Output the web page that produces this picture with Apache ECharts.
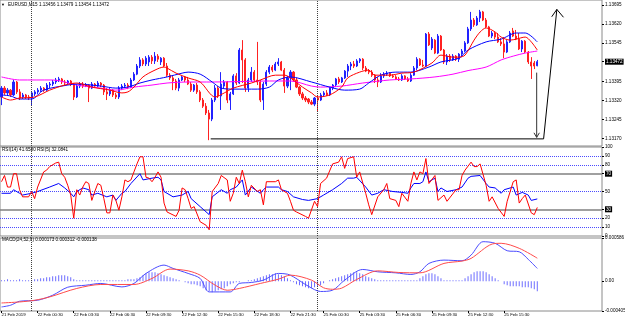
<!DOCTYPE html>
<html>
<head>
<meta charset="utf-8">
<title>EURUSD,M15</title>
<script src="https://cdn.jsdelivr.net/npm/echarts@6/dist/echarts.min.js"></script>
<style>
  html, body { margin: 0; padding: 0; background: #fff; }
  #chart { width: 625px; height: 320px; }
</style>
</head>
<body>
<div id="chart"></div>
<script>
const barSlots = 200;
const tickBars = [0, 12, 24, 36, 48, 60, 72, 84, 96, 107, 119, 131, 143, 155, 167];
const tickLabels = ["21 Feb 2019", "22 Feb 00:30", "22 Feb 03:30", "22 Feb 06:30", "22 Feb 09:30",
  "22 Feb 12:30", "22 Feb 15:30", "22 Feb 18:30", "22 Feb 21:30", "25 Feb 00:30", "25 Feb 03:30",
  "25 Feb 06:30", "25 Feb 09:30", "25 Feb 12:30", "25 Feb 15:30"];
const daySeparators = [10, 105];

const priceTicks = [1.13170, 1.13245, 1.13320, 1.13395, 1.13472, 1.13545, 1.13620, 1.13695];
const lastPrice = 1.13472;
const rsiTicks = [0, 10, 20, 30, 50, 70, 80, 90, 100];
const rsiDotted = [10, 20, 50, 80, 90];
const rsiSolid = [30, 70];
const macdTicks = [-0.000405, 0, 0.000586];

// [open, close, low, high]
const candles = [
  [1.13333,1.13368,1.13301,1.13376],[1.13368,1.13349,1.13341,1.13376],[1.13349,1.13360,1.13337,1.13368],[1.13360,1.13341,1.13333,1.13364],
  [1.13341,1.13392,1.13337,1.13400],[1.13392,1.13353,1.13345,1.13396],[1.13353,1.13329,1.13321,1.13364],[1.13333,1.13341,1.13325,1.13349],
  [1.13341,1.13333,1.13325,1.13345],[1.13333,1.13329,1.13321,1.13341],[1.13329,1.13349,1.13301,1.13356],[1.13345,1.13353,1.13337,1.13360],
  [1.13353,1.13360,1.13345,1.13368],[1.13360,1.13368,1.13353,1.13376],[1.13368,1.13360,1.13353,1.13372],[1.13360,1.13380,1.13356,1.13388],
  [1.13380,1.13384,1.13368,1.13392],[1.13384,1.13392,1.13376,1.13400],[1.13392,1.13400,1.13384,1.13408],[1.13400,1.13404,1.13392,1.13412],
  [1.13404,1.13392,1.13384,1.13408],[1.13392,1.13388,1.13380,1.13400],[1.13388,1.13396,1.13380,1.13400],[1.13396,1.13384,1.13376,1.13400],
  [1.13384,1.13333,1.13321,1.13388],[1.13333,1.13376,1.13329,1.13384],[1.13376,1.13384,1.13368,1.13392],[1.13384,1.13376,1.13368,1.13392],
  [1.13376,1.13380,1.13372,1.13388],[1.13380,1.13368,1.13313,1.13384],[1.13368,1.13384,1.13364,1.13392],[1.13384,1.13376,1.13368,1.13388],
  [1.13376,1.13388,1.13372,1.13396],[1.13388,1.13380,1.13372,1.13392],[1.13380,1.13353,1.13341,1.13384],[1.13353,1.13345,1.13321,1.13368],
  [1.13345,1.13360,1.13337,1.13368],[1.13360,1.13341,1.13333,1.13364],[1.13341,1.13333,1.13325,1.13349],[1.13333,1.13368,1.13325,1.13376],
  [1.13368,1.13376,1.13360,1.13384],[1.13376,1.13380,1.13368,1.13388],[1.13380,1.13372,1.13364,1.13388],[1.13372,1.13400,1.13368,1.13408],
  [1.13400,1.13423,1.13396,1.13431],[1.13423,1.13455,1.13419,1.13463],[1.13455,1.13479,1.13447,1.13490],[1.13479,1.13463,1.13455,1.13486],
  [1.13463,1.13486,1.13455,1.13494],[1.13471,1.13490,1.13455,1.13498],[1.13490,1.13475,1.13463,1.13498],[1.13475,1.13494,1.13463,1.13510],
  [1.13494,1.13482,1.13471,1.13502],[1.13471,1.13486,1.13459,1.13490],[1.13486,1.13455,1.13451,1.13490],[1.13455,1.13419,1.13412,1.13467],
  [1.13419,1.13408,1.13400,1.13427],[1.13408,1.13396,1.13360,1.13416],[1.13396,1.13368,1.13360,1.13404],[1.13368,1.13400,1.13356,1.13408],
  [1.13400,1.13412,1.13396,1.13416],[1.13412,1.13400,1.13392,1.13416],[1.13400,1.13384,1.13380,1.13412],[1.13384,1.13360,1.13353,1.13392],
  [1.13360,1.13380,1.13353,1.13384],[1.13380,1.13353,1.13345,1.13388],[1.13353,1.13321,1.13313,1.13360],[1.13321,1.13297,1.13290,1.13329],
  [1.13297,1.13270,1.13262,1.13309],[1.13270,1.13246,1.13163,1.13282],[1.13246,1.13321,1.13238,1.13329],[1.13321,1.13368,1.13313,1.13380],
  [1.13368,1.13337,1.13329,1.13376],[1.13337,1.13384,1.13282,1.13431],[1.13376,1.13392,1.13368,1.13400],[1.13392,1.13321,1.13309,1.13396],
  [1.13321,1.13345,1.13282,1.13353],[1.13345,1.13416,1.13341,1.13423],[1.13416,1.13388,1.13380,1.13427],[1.13388,1.13518,1.13384,1.13526],
  [1.13518,1.13479,1.13388,1.13557],[1.13479,1.13368,1.13353,1.13486],[1.13368,1.13400,1.13353,1.13408],[1.13400,1.13431,1.13392,1.13451],
  [1.13431,1.13400,1.13392,1.13439],[1.13400,1.13392,1.13380,1.13550],[1.13392,1.13321,1.13313,1.13400],[1.13321,1.13384,1.13282,1.13392],
  [1.13384,1.13431,1.13376,1.13439],[1.13431,1.13451,1.13423,1.13459],[1.13451,1.13439,1.13431,1.13459],[1.13439,1.13463,1.13435,1.13471],
  [1.13463,1.13471,1.13455,1.13486],[1.13471,1.13439,1.13435,1.13475],[1.13439,1.13376,1.13349,1.13447],[1.13376,1.13408,1.13368,1.13416],
  [1.13408,1.13431,1.13360,1.13439],[1.13431,1.13400,1.13392,1.13435],[1.13400,1.13372,1.13368,1.13408],[1.13372,1.13345,1.13337,1.13376],
  [1.13345,1.13329,1.13321,1.13353],[1.13329,1.13321,1.13313,1.13337],[1.13325,1.13313,1.13305,1.13329],[1.13313,1.13305,1.13301,1.13321],
  [1.13305,1.13329,1.13297,1.13333],[1.13329,1.13321,1.13274,1.13337],[1.13321,1.13341,1.13317,1.13349],[1.13341,1.13349,1.13333,1.13356],
  [1.13349,1.13341,1.13337,1.13360],[1.13341,1.13368,1.13337,1.13372],[1.13368,1.13380,1.13360,1.13384],[1.13380,1.13404,1.13372,1.13408],
  [1.13404,1.13392,1.13384,1.13412],[1.13392,1.13408,1.13388,1.13412],[1.13408,1.13435,1.13404,1.13439],[1.13435,1.13455,1.13412,1.13463],
  [1.13455,1.13463,1.13439,1.13471],[1.13463,1.13455,1.13447,1.13475],[1.13455,1.13475,1.13451,1.13482],[1.13475,1.13482,1.13467,1.13486],
  [1.13482,1.13447,1.13439,1.13486],[1.13447,1.13435,1.13431,1.13455],[1.13435,1.13431,1.13423,1.13443],[1.13431,1.13419,1.13412,1.13439],
  [1.13419,1.13400,1.13388,1.13423],[1.13400,1.13392,1.13372,1.13412],[1.13392,1.13416,1.13388,1.13427],[1.13416,1.13423,1.13408,1.13431],
  [1.13423,1.13427,1.13416,1.13435],[1.13427,1.13416,1.13412,1.13431],[1.13416,1.13412,1.13408,1.13423],[1.13412,1.13404,1.13400,1.13419],
  [1.13404,1.13400,1.13396,1.13412],[1.13400,1.13416,1.13396,1.13423],[1.13416,1.13404,1.13400,1.13419],[1.13404,1.13396,1.13392,1.13412],
  [1.13396,1.13419,1.13392,1.13427],[1.13419,1.13447,1.13416,1.13455],[1.13447,1.13482,1.13439,1.13490],[1.13482,1.13459,1.13455,1.13486],
  [1.13459,1.13455,1.13451,1.13479],[1.13455,1.13581,1.13451,1.13585],[1.13581,1.13538,1.13534,1.13589],[1.13526,1.13561,1.13518,1.13569],
  [1.13557,1.13506,1.13502,1.13561],[1.13506,1.13573,1.13502,1.13581],[1.13573,1.13518,1.13514,1.13577],[1.13518,1.13471,1.13463,1.13522],
  [1.13471,1.13494,1.13459,1.13502],[1.13494,1.13479,1.13471,1.13502],[1.13479,1.13494,1.13475,1.13502],[1.13494,1.13482,1.13475,1.13498],
  [1.13482,1.13502,1.13471,1.13506],[1.13502,1.13514,1.13490,1.13522],[1.13514,1.13546,1.13510,1.13553],[1.13546,1.13601,1.13542,1.13609],
  [1.13601,1.13636,1.13593,1.13668],[1.13636,1.13617,1.13609,1.13644],[1.13617,1.13644,1.13613,1.13652],[1.13644,1.13668,1.13628,1.13676],
  [1.13668,1.13636,1.13632,1.13672],[1.13636,1.13609,1.13605,1.13644],[1.13609,1.13573,1.13569,1.13613],[1.13573,1.13585,1.13565,1.13593],
  [1.13585,1.13569,1.13561,1.13589],[1.13569,1.13550,1.13546,1.13585],[1.13550,1.13542,1.13534,1.13565],[1.13542,1.13510,1.13486,1.13569],
  [1.13510,1.13550,1.13506,1.13557],[1.13550,1.13585,1.13546,1.13593],[1.13593,1.13573,1.13569,1.13605],[1.13573,1.13561,1.13557,1.13597],
  [1.13561,1.13522,1.13518,1.13585],[1.13522,1.13553,1.13510,1.13557],[1.13553,1.13510,1.13506,1.13557],[1.13510,1.13471,1.13463,1.13514],
  [1.13471,1.13455,1.13404,1.13490],[1.13467,1.13455,1.13443,1.13475],[1.13456,1.13472,1.13454,1.13479]
];

// moving averages as [bar, price]
const maFast = [[0,1.13333],[3,1.13321],[6,1.13329],[11,1.13333],[16,1.13360],[21,1.13380],[25,1.13388],[30,1.13372],
  [36,1.13360],[40,1.13349],[42,1.13353],[44,1.13372],[47,1.13412],[51,1.13439],[54,1.13451],[55,1.13447],[58,1.13427],
  [62,1.13408],[66,1.13392],[71,1.13333],[74,1.13349],[77,1.13368],[83,1.13388],[86,1.13400],[91,1.13419],[94,1.13419],
  [96,1.13408],[100,1.13372],[103,1.13349],[105,1.13333],[109,1.13341],[113,1.13372],[115,1.13408],[119,1.13431],
  [122,1.13439],[124,1.13419],[129,1.13419],[133,1.13427],[137,1.13431],[143,1.13467],[146,1.13498],[150,1.13490],
  [152,1.13490],[154,1.13498],[157,1.13557],[159,1.13589],[161,1.13605],[164,1.13589],[166,1.13569],[169,1.13557],
  [171,1.13561],[174,1.13569],[176,1.13550],[178,1.13518]];
const maMid = [[0,1.13341],[3,1.13337],[6,1.13325],[10,1.13325],[14,1.13360],[22,1.13380],[25,1.13384],[33,1.13376],
  [38,1.13368],[42,1.13372],[46,1.13388],[50,1.13400],[55,1.13412],[60,1.13427],[62,1.13431],[66,1.13423],[70,1.13392],
  [73,1.13368],[77,1.13364],[85,1.13364],[89,1.13372],[92,1.13400],[96,1.13412],[103,1.13392],[109,1.13372],[114,1.13360],
  [119,1.13364],[122,1.13388],[126,1.13419],[131,1.13431],[136,1.13431],[142,1.13451],[146,1.13471],[152,1.13486],
  [155,1.13518],[161,1.13550],[166,1.13561],[171,1.13585],[174,1.13585],[178,1.13550]];
const maSlow = [[0,1.13412],[6,1.13400],[17,1.13400],[25,1.13380],[33,1.13368],[38,1.13360],[44,1.13372],[50,1.13380],
  [55,1.13388],[62,1.13392],[70,1.13392],[89,1.13396],[96,1.13396],[103,1.13376],[106,1.13372],[113,1.13376],[120,1.13388],
  [129,1.13400],[136,1.13404],[144,1.13412],[150,1.13423],[155,1.13437],[161,1.13451],[166,1.13479],[170,1.13494],
  [174,1.13506],[178,1.13514]];

// drawn objects, [bar, price]
const trendPath = [[69.5,1.13168],[180.1,1.13168],[184.5,1.13678]];
const trendHead = [[182.8,1.13649],[184.5,1.13678],[186.7,1.13647]];
const dropArrow = [[177.8,1.13429],[177.8,1.13174]];
const dropHead = [[176.9,1.13192],[177.8,1.13174],[178.7,1.13192]];

const rsi14 = [[0,48],[3,48],[4,52],[6,48],[7,46],[10,48],[12,50],[16,55],[19,59],[21,54],[23,48],[24,44],[25,50],
  [27,54],[29,52],[30,46],[32,48],[35,44],[37,46],[38,40],[40,48],[41,50],[43,59],[46,70],[47,63],[50,65],[52,66],
  [53,63],[54,50],[57,44],[60,46],[62,50],[63,42],[66,33],[69,24],[70,44],[73,52],[75,48],[76,52],[78,55],[80,63],
  [81,46],[83,55],[86,48],[87,52],[88,55],[92,55],[93,52],[95,50],[97,44],[100,41],[102,40],[105,42],[107,46],
  [110,52],[113,59],[115,65],[117,65],[118,66],[121,55],[123,46],[125,48],[127,52],[130,50],[133,49],[135,48],
  [136,54],[137,59],[139,59],[140,61],[141,72],[142,61],[144,65],[145,50],[146,54],[148,50],[151,52],[153,55],
  [155,65],[156,67],[159,68],[161,59],[162,55],[164,54],[166,48],[167,52],[170,55],[171,46],[173,49],[175,46],
  [176,40],[178,41.658]];
const rsi5 = [[0,61],[1,68],[2,55],[3,55],[4,70],[5,70],[6,52],[7,44],[9,44],[10,50],[11,42],[12,55],[14,72],[15,74],
  [16,78],[18,82],[19,83],[20,70],[21,66],[22,57],[23,46],[24,20],[25,52],[26,46],[27,55],[28,61],[29,59],[30,40],
  [31,50],[32,59],[33,57],[34,42],[35,26],[36,26],[37,46],[38,40],[39,29],[40,44],[41,63],[42,61],[43,63],[44,72],
  [45,81],[46,89],[47,89],[48,66],[49,65],[50,61],[51,66],[52,72],[53,66],[54,37],[55,27],[58,22],[59,29],[60,54],
  [61,52],[62,42],[63,31],[64,33],[66,16],[68,12],[69,7],[70,50],[72,59],[73,68],[75,63],[76,39],[77,48],[78,66],
  [79,59],[80,74],[81,61],[82,44],[83,57],[85,50],[86,52],[87,35],[88,61],[91,61],[92,63],[93,52],[95,48],[96,39],
  [97,29],[98,27],[101,22],[102,20],[104,39],[105,33],[106,59],[108,65],[110,81],[112,83],[113,89],[114,76],[115,87],
  [117,89],[118,66],[119,72],[121,48],[122,35],[123,24],[125,44],[127,52],[128,59],[129,42],[131,40],[132,33],
  [133,48],[135,39],[136,59],[137,72],[138,63],[139,72],[140,70],[141,87],[142,59],[144,68],[145,40],[147,46],
  [148,39],[151,52],[152,52],[153,68],[154,74],[156,83],[157,78],[158,78],[159,81],[161,57],[162,39],[163,44],
  [165,31],[167,22],[168,39],[170,61],[171,63],[172,37],[173,42],[174,46],[176,26],[177,24],[178,32.0841]];

const macdMain = [[0,-0.000350],[3,-0.000327],[6,-0.000273],[12,-0.000259],[17,-0.000191],[22,-0.000082],[28,-0.000055],
  [33,-0.000031],[40,-0.000078],[44,-0.000031],[48,0.000105],[54,0.000218],[57,0.000173],[62,0.000105],[66,0.000037],
  [69,-0.000146],[76,-0.000146],[79,-0.000031],[83,-0.000018],[87,0.000014],[92,0.000105],[95,0.000095],[97,0.000059],
  [102,-0.000070],[106,-0.000140],[110,-0.000123],[114,0.000014],[120,0.000159],[125,0.000127],[131,0.000113],
  [136,0.000091],[139,0.000127],[142,0.000241],[147,0.000286],[153,0.000277],[156,0.000354],[160,0.000536],
  [164,0.000514],[168,0.000413],[172,0.000399],[175,0.000296],[178,0.000173]];
const macdSignal = [[0,-0.000296],[6,-0.000282],[11,-0.000259],[16,-0.000214],[25,-0.000099],[33,-0.000045],[44,-0.000045],
  [50,0.000037],[56,0.000164],[62,0.000140],[66,0.000082],[71,-0.000055],[75,-0.000123],[79,-0.000099],[86,-0.000031],
  [92,0.000027],[96,0.000082],[103,0.000014],[107,-0.000090],[110,-0.000110],[113,-0.000095],[118,0.000023],
  [125,0.000140],[132,0.000118],[139,0.000113],[147,0.000241],[153,0.000273],[156,0.000309],[163,0.000504],
  [166,0.000514],[172,0.000446],[178,0.000312]];
const macdHist = [
  14e-6,14e-6,27e-6,14e-6,14e-6,14e-6,27e-6,14e-6,14e-6,14e-6,
  14e-6,27e-6,27e-6,41e-6,41e-6,54e-6,54e-6,68e-6,68e-6,
  82e-6,82e-6,82e-6,68e-6,54e-6,
  27e-6,14e-6,14e-6,14e-6,14e-6,14e-6,14e-6,14e-6,14e-6,14e-6,14e-6,14e-6,14e-6,
  14e-6,14e-6,14e-6,14e-6,14e-6,27e-6,27e-6,27e-6,
  41e-6,54e-6,82e-6,109e-6,122e-6,122e-6,122e-6,109e-6,
  95e-6,82e-6,68e-6,54e-6,41e-6,27e-6,14e-6,0,
  -14e-6,-27e-6,-41e-6,-41e-6,-54e-6,
  -68e-6,-95e-6,-122e-6,-136e-6,-150e-6,-136e-6,-122e-6,-109e-6,-95e-6,
  -68e-6,-41e-6,-27e-6,-14e-6,-14e-6,0,0,14e-6,14e-6,27e-6,
  41e-6,54e-6,68e-6,82e-6,95e-6,95e-6,109e-6,95e-6,82e-6,68e-6,41e-6,
  14e-6,-14e-6,-41e-6,-54e-6,-68e-6,-82e-6,-95e-6,-95e-6,
  -82e-6,-68e-6,-54e-6,-27e-6,
  0,14e-6,27e-6,41e-6,54e-6,68e-6,82e-6,95e-6,109e-6,122e-6,122e-6,109e-6,95e-6,68e-6,54e-6,41e-6,27e-6,14e-6,
  14e-6,14e-6,14e-6,14e-6,14e-6,14e-6,14e-6,14e-6,14e-6,14e-6,14e-6,14e-6,
  14e-6,41e-6,68e-6,95e-6,109e-6,109e-6,95e-6,68e-6,41e-6,
  14e-6,14e-6,14e-6,14e-6,14e-6,14e-6,14e-6,
  41e-6,68e-6,95e-6,122e-6,136e-6,136e-6,136e-6,122e-6,95e-6,68e-6,
  41e-6,14e-6,0,
  -41e-6,-54e-6,-68e-6,-68e-6,-68e-6,-68e-6,-82e-6,-82e-6,-82e-6,-95e-6,-109e-6,-138e-6
];

const fontFamily = '"Liberation Sans", Arial, sans-serif';
const cats = Array.from({ length: barSlots }, (_, i) => String(i));
const labelAt = {};
tickBars.forEach((b, k) => { labelAt[b] = tickLabels[k]; });
const showTick = (index) => labelAt[index] !== undefined;

const last = candles[candles.length - 1];
const mainTitle = "EURUSD,M15 " + [last[0], last[3], last[2], last[1]].map(v => v.toFixed(5)).join(" ");
const rsiTitle = "RSI(14) " + rsi14[rsi14.length - 1][1].toFixed(4) + " RSI(5) " + rsi5[rsi5.length - 1][1].toFixed(4);
const macdTitle = "MACD(24,52,9) " + macdMain[macdMain.length - 1][1].toFixed(6) + " " +
  macdSignal[macdSignal.length - 1][1].toFixed(6) + " " + macdHist[macdHist.length - 1].toFixed(6);

const gridBox = (top, height) => ({
  left: 0, top: top, width: 602, height: height, show: true,
  borderColor: "#8a8a8a", borderWidth: 1, backgroundColor: "#fff",
  containLabel: false, outerBoundsMode: "none"
});

const catAxis = (gridIndex, show) => ({
  type: "category", gridIndex: gridIndex, data: cats, boundaryGap: true,
  axisLine: { show: false, onZero: false },
  axisTick: { show: show, alignWithLabel: true, interval: showTick, length: 2, lineStyle: { color: "#000" } },
  axisLabel: {
    show: show, interval: showTick, align: "left", margin: 2, fontSize: 4.3, color: "#000", fontFamily: fontFamily,
    formatter: (value, index) => labelAt[index] || ""
  },
  splitLine: { show: false }
});
const posAxis = (gridIndex) => ({
  type: "value", gridIndex: gridIndex, min: -0.5, max: barSlots - 0.5, show: false,
  axisLine: { show: false, onZero: false }, axisTick: { show: false }, splitLine: { show: false }
});

const rightAxis = (gridIndex, min, max, ticks, fmt) => ({
  type: "value", gridIndex: gridIndex, position: "right", min: min, max: max,
  splitLine: { show: false }, axisLine: { show: false, onZero: false },
  axisTick: { show: true, length: 2, customValues: ticks, lineStyle: { color: "#000" } },
  axisLabel: {
    customValues: ticks, margin: 3, fontSize: 4.6, color: "#000", fontFamily: fontFamily, formatter: fmt,
    rich: { hl: { backgroundColor: "#000", color: "#fff", fontSize: 4.6, fontFamily: fontFamily, padding: [1, 1, 0, 1] } }
  }
});

const separatorLines = {
  silent: true, symbol: "none", label: { show: false },
  lineStyle: { type: "dotted", color: "#404040", width: 1 },
  data: daySeparators.map(b => ({ xAxis: b }))
};

const lineSeries = (name, data, color, xIdx, yIdx, extra) => Object.assign({
  name: name, type: "line", data: data, xAxisIndex: xIdx, yAxisIndex: yIdx,
  symbol: "none", lineStyle: { color: color, width: 1 }, z: 5, animation: false
}, extra || {});

const option = {
  animation: false,
  backgroundColor: "#fff",
  grid: [gridBox(0, 146), gridBox(147, 89), gridBox(238, 73)],
  xAxis: [catAxis(0, false), posAxis(0), catAxis(1, false), posAxis(1), catAxis(2, true), posAxis(2)],
  yAxis: [
    rightAxis(0, 1.1314, 1.13715, priceTicks,
      v => Math.abs(v - lastPrice) < 1e-7 ? "{hl|" + v.toFixed(5) + "}" : v.toFixed(5)),
    rightAxis(1, 0, 100, rsiTicks, v => (v === 70 || v === 30) ? "{hl|" + v + "}" : String(v)),
    rightAxis(2, -0.000405, 0.000586, macdTicks, v => v === 0 ? "0.00" : v.toFixed(6))
  ],
  graphic: [
    { type: "text", left: 1, top: 2.5, style: { text: "\u25BC", fontSize: 4, fill: "#000" } },
    { type: "text", left: 8, top: 2.5, style: { text: mainTitle, fontSize: 4.6, fill: "#000", fontFamily: fontFamily } },
    { type: "text", left: 2, top: 146.8, style: { text: rsiTitle, fontSize: 4.6, fill: "#000", fontFamily: fontFamily } },
    { type: "text", left: 2, top: 237.2, style: { text: macdTitle, fontSize: 4.6, fill: "#000", fontFamily: fontFamily } }
  ],
  series: [
    {
      name: "EURUSD", type: "candlestick", data: candles, xAxisIndex: 0, yAxisIndex: 0,
      barWidth: 1.6, z: 3,
      itemStyle: { color: "#2222ff", color0: "#ff2222", borderColor: "#2222ff", borderColor0: "#ff2222", borderWidth: 1 },
      markLine: {
        silent: true, symbol: "none", label: { show: false },
        lineStyle: { type: "solid", color: "#c8c8c8", width: 1 },
        data: [{ yAxis: lastPrice }]
      }
    },
    lineSeries("MA slow", maSlow, "#ff00ff", 1, 0, { smooth: 0.3, markLine: separatorLines }),
    lineSeries("MA mid", maMid, "#0000ff", 1, 0, { smooth: 0.3 }),
    lineSeries("MA fast", maFast, "#ff0000", 1, 0, { smooth: 0.3 }),
    lineSeries("trend", trendPath, "#000", 1, 0, { z: 6 }),
    lineSeries("trend head", trendHead, "#000", 1, 0, { z: 6 }),
    lineSeries("drop", dropArrow, "#333", 1, 0, { z: 6 }),
    lineSeries("drop head", dropHead, "#333", 1, 0, { z: 6 }),
    lineSeries("RSI(14)", rsi14, "#0000ff", 3, 1, {
      markLine: {
        silent: true, symbol: "none", label: { show: false },
        data: rsiDotted.map(v => ({ yAxis: v, lineStyle: { type: "dotted", color: "#4b4bff", width: 1 } }))
          .concat(rsiSolid.map(v => ({ yAxis: v, lineStyle: { type: "solid", color: "#808080", width: 1.5 } })))
          .concat(daySeparators.map(b => ({ xAxis: b, lineStyle: { type: "dotted", color: "#404040", width: 1 } })))
      }
    }),
    lineSeries("RSI(5)", rsi5, "#ff0000", 3, 1),
    {
      name: "MACD hist", type: "bar", data: macdHist, xAxisIndex: 4, yAxisIndex: 2,
      barWidth: 1, itemStyle: { color: "#6c6cff" }, z: 3, animation: false
    },
    lineSeries("MACD", macdMain, "#4b4bff", 5, 2, { smooth: 0.3, markLine: separatorLines }),
    lineSeries("Signal", macdSignal, "#ff4b4b", 5, 2, { smooth: 0.3 })
  ]
};

const chart = echarts.init(document.getElementById("chart"), null, { renderer: "canvas" });
chart.setOption(option);
</script>
</body>
</html>
